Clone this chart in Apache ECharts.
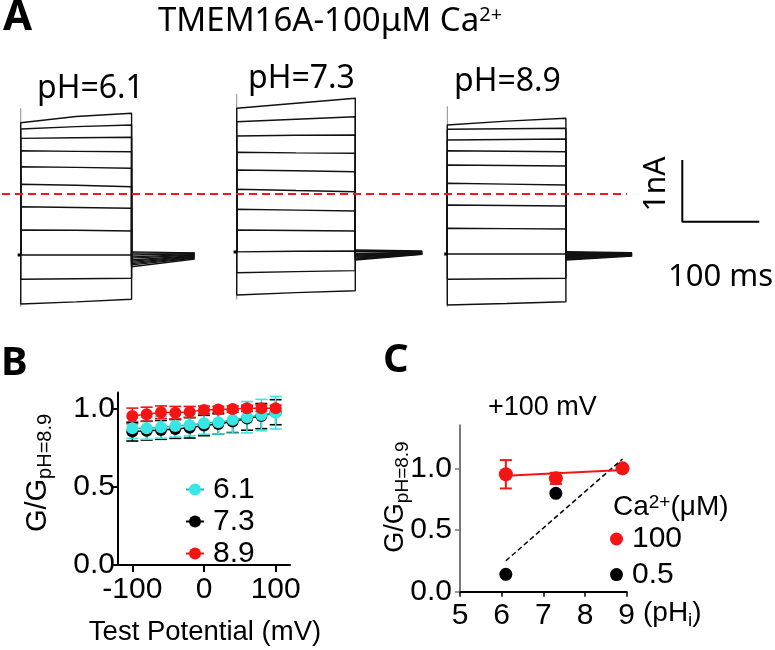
<!DOCTYPE html>
<html><head><meta charset="utf-8">
<script src="https://cdn.jsdelivr.net/npm/echarts@6/dist/echarts.min.js"></script>
<style>html,body{margin:0;padding:0;background:#fff}#c{width:775px;height:650px}</style>
</head><body><div id="c"></div>
<script>
const FA = '"Noto Sans", "DejaVu Sans", sans-serif';
const FB = '"Liberation Sans", Arial, sans-serif';

// ---------- Panel A: current traces (nA vs ms) ----------
const phLabels = ['pH=6.1', 'pH=7.3', 'pH=8.9'];
const pulseMs = [144, 154, 154];
const tailMs = [82, 87, 86];
const holdingNa = [0, 0.05, 0.016];
const transientTopNa = [2.38, 2.71, 2.41];
const transientBottomNa = [-0.84, -0.72, -0.84];

const stepStart61 = [2.144, 2.042, 1.891, 1.690, 1.431, 1.146, 0.783, 0.405, 0, -0.394, -0.794];
const stepMid61   = [2.245, 2.080, 1.900, 1.680, 1.420, 1.130, 0.770, 0.400, 0, -0.385, -0.760];
const stepEnd61   = [2.297, 2.107, 1.908, 1.674, 1.405, 1.107, 0.757, 0.389, 0, -0.378, -0.718];
const tailStart61 = [-0.19, -0.16, -0.14, -0.12, -0.10, -0.08, -0.05, -0.03, 0.0, 0.03, 0.05];
const tailEnd61   = [-0.065, -0.05, -0.04, -0.03, -0.02, -0.01, 0.0, 0.01, 0.02, 0.03, 0.032];

const stepStart73 = [2.378, 2.160, 1.929, 1.665, 1.378, 1.065, 0.741, 0.405, 0.053, -0.287, -0.648];
const stepMid73   = [2.459, 2.200, 1.940, 1.655, 1.365, 1.045, 0.727, 0.397, 0.060, -0.270, -0.610];
const stepEnd73   = [2.540, 2.240, 1.945, 1.648, 1.350, 1.026, 0.713, 0.389, 0.065, -0.254, -0.579];
const tailStart73 = [-0.08, -0.065, -0.05, -0.035, -0.02, -0.005, 0.01, 0.025, 0.04, 0.06, 0.08];
const tailEnd73   = [0.01, 0.015, 0.02, 0.025, 0.03, 0.035, 0.04, 0.045, 0.05, 0.055, 0.065];

const stepStart89 = [2.107, 2.037, 1.864, 1.690, 1.459, 1.162, 0.810, 0.433, 0.016, -0.394, -0.810];
const stepMid89   = [2.170, 2.045, 1.872, 1.682, 1.450, 1.148, 0.802, 0.427, 0.016, -0.386, -0.785];
const stepEnd89   = [2.216, 2.054, 1.880, 1.674, 1.442, 1.135, 0.794, 0.421, 0.016, -0.378, -0.757];
const tailStart89 = [-0.081, -0.07, -0.055, -0.04, -0.025, -0.01, 0.0, 0.015, 0.03, 0.04, 0.053];
const tailEnd89   = [-0.016, -0.01, -0.005, 0.0, 0.005, 0.01, 0.015, 0.02, 0.025, 0.03, 0.037];

const dashLevelNa = 1.0;
const scaleBarNa = 1;
const scaleBarMs = 100;

// ---------- Panel B ----------
const bVoltage = [-100, -80, -60, -40, -20, 0, 20, 40, 60, 80, 100];
const b61 = [0.872, 0.872, 0.879, 0.887, 0.894, 0.904, 0.911, 0.926, 0.943, 0.957, 0.972];
const b61Err = [0.065, 0.07, 0.07, 0.07, 0.07, 0.07, 0.075, 0.085, 0.1, 0.1, 0.104];
const b73 = [0.851, 0.857, 0.862, 0.868, 0.875, 0.89, 0.9, 0.915, 0.935, 0.95, 0.975];
const b73Err = [0.06, 0.06, 0.06, 0.06, 0.065, 0.065, 0.065, 0.07, 0.075, 0.08, 0.08];
const b89 = [0.951, 0.962, 0.975, 0.972, 0.977, 0.989, 0.992, 0.995, 1.0, 1.0, 1.0];
const b89Err = [0.05, 0.045, 0.04, 0.04, 0.035, 0.025, 0.02, 0.02, 0.02, 0.02, 0.02];
const bXTicks = [-100, 0, 100];
const bYTicks = [0, 0.5, 1.0];

// ---------- Panel C ----------
const cPh100 = [6.1, 7.3, 8.9];
const c100 = [0.952, 0.919, 1.0];
const c100Err = [0.115, 0.045, 0];
const cPh05 = [6.1, 7.3];
const c05 = [0.141, 0.798];
const fitPh = [6.1, 8.9];
const fit100 = [0.94, 0.987];
const fit05 = [0.251, 1.076];
const cXTicks = [5, 6, 7, 8, 9];
const cYTicks = [0, 0.5, 1.0];

// ---------- layout ----------
const pxPerMs = 0.77, pxPerNa = 61.7, holdPx = 255;
const aYMin = -1, aYMax = 2.6;
const aTop = holdPx - aYMax * pxPerNa, aHeight = (aYMax - aYMin) * pxPerNa;
const pulseStartPx = [20.7, 236.7, 447.3];
const preMs = 5;

const panels = [
  [stepStart61, stepMid61, stepEnd61, tailStart61, tailEnd61],
  [stepStart73, stepMid73, stepEnd73, tailStart73, tailEnd73],
  [stepStart89, stepMid89, stepEnd89, tailStart89, tailEnd89]
];

const grid = [], xAxis = [], yAxis = [], series = [];
panels.forEach((p, i) => {
  const xMax = pulseMs[i] + tailMs[i];
  grid.push({left: pulseStartPx[i] - preMs * pxPerMs, top: aTop, width: (xMax + preMs) * pxPerMs, height: aHeight,
             containLabel: false, outerBoundsMode: 'none'});
  xAxis.push({gridIndex: i, type: 'value', min: -preMs, max: xMax, show: false});
  yAxis.push({gridIndex: i, type: 'value', min: aYMin, max: aYMax, show: false});
  const [st, md, en, ta, tb] = p;
  series.push({type: 'line', xAxisIndex: i, yAxisIndex: i, silent: true, showSymbol: false, symbol: 'none',
    data: [[0, transientTopNa[i]], [0, transientBottomNa[i]]], lineStyle: {color: '#8a8a8a', width: 1}});
  st.forEach((v, k) => {
    series.push({type: 'line', xAxisIndex: i, yAxisIndex: i, silent: true, showSymbol: false, symbol: 'none',
      data: [[0, holdingNa[i]], [0, v], [pulseMs[i] / 2, md[k]], [pulseMs[i], en[k]],
             [pulseMs[i], ta[k]], [xMax, tb[k]]],
      lineStyle: {color: '#111', width: 1.4}});
  });
  series.push({type: 'line', xAxisIndex: i, yAxisIndex: i, silent: true, showSymbol: false, symbol: 'none',
    data: [[-4, holdingNa[i]], [0, holdingNa[i]]], lineStyle: {color: '#000', width: 3}});
});
grid.push({left: 2, top: aTop, width: 625, height: aHeight, containLabel: false, outerBoundsMode: 'none'});
xAxis.push({gridIndex: 3, type: 'value', min: 0, max: 1, show: false});
yAxis.push({gridIndex: 3, type: 'value', min: aYMin, max: aYMax, show: false});
series.push({type: 'line', xAxisIndex: 3, yAxisIndex: 3, data: [], silent: true,
  markLine: {silent: true, symbol: 'none', label: {show: false},
    lineStyle: {type: [8, 5], color: '#f01818', width: 2}, data: [{yAxis: dashLevelNa}]}});
grid.push({left: 682.3, top: 160, width: scaleBarMs * pxPerMs, height: scaleBarNa * pxPerNa, containLabel: false, outerBoundsMode: 'none'});
xAxis.push({gridIndex: 4, type: 'value', min: 0, max: scaleBarMs, show: false});
yAxis.push({gridIndex: 4, type: 'value', min: 0, max: scaleBarNa, show: false});
series.push({type: 'line', xAxisIndex: 4, yAxisIndex: 4, silent: true, showSymbol: false, symbol: 'none', clip: false,
  data: [[0, scaleBarNa], [0, 0], [scaleBarMs, 0]], lineStyle: {color: '#000', width: 2}});

// ---------- Panel B ----------
grid.push({left: 118, top: 392.6, width: 172, height: 172.4, containLabel: false, outerBoundsMode: 'none'});
const axisLabelB = {fontSize: 30, fontFamily: FB, color: '#000'};
xAxis.push({gridIndex: 5, type: 'value', min: -120, max: 120, splitLine: {show: false},
  axisLine: {onZero: false, lineStyle: {color: '#000', width: 2}},
  axisTick: {length: 7, lineStyle: {color: '#000', width: 2}, customValues: bXTicks},
  axisLabel: Object.assign({margin: 10, customValues: bXTicks, formatter: v => String(v)}, axisLabelB)});
yAxis.push({gridIndex: 5, type: 'value', min: 0, max: 1.1, splitLine: {show: false},
  axisLine: {show: true, onZero: false, lineStyle: {color: '#000', width: 2}},
  axisTick: {show: true, length: 7, lineStyle: {color: '#000', width: 2}, customValues: bYTicks},
  axisLabel: Object.assign({margin: 3, customValues: bYTicks, formatter: v => v.toFixed(1)}, axisLabelB)});

function errSeries(xs, ys, errs, color, axisIdx, capHalf, lw) {
  return {type: 'custom', xAxisIndex: axisIdx, yAxisIndex: axisIdx, silent: true,
    data: xs.map((x, i) => [x, ys[i] - errs[i], ys[i] + errs[i]]),
    encode: {x: 0, y: [1, 2]},
    renderItem: (params, api) => {
      const x = api.value(0);
      const lo = api.coord([x, api.value(1)]);
      const hi = api.coord([x, api.value(2)]);
      const st = {stroke: color, lineWidth: lw};
      return {type: 'group', children: [
        {type: 'line', shape: {x1: lo[0], y1: lo[1], x2: hi[0], y2: hi[1]}, style: st},
        {type: 'line', shape: {x1: lo[0] - capHalf, y1: lo[1], x2: lo[0] + capHalf, y2: lo[1]}, style: st},
        {type: 'line', shape: {x1: hi[0] - capHalf, y1: hi[1], x2: hi[0] + capHalf, y2: hi[1]}, style: st}
      ]};
    }};
}
function bLine(name, ys, color, lineColor) {
  return {type: 'line', name, xAxisIndex: 5, yAxisIndex: 5, silent: true,
    data: bVoltage.map((x, i) => [x, ys[i]]), symbol: 'circle', symbolSize: 12, showSymbol: true,
    itemStyle: {color, opacity: 1}, lineStyle: {color: lineColor, width: 1.5}};
}
const RED = '#f41414', CYAN = '#38e6e6', CYAN_D = '#1fb4b4', BLACK = '#000';
series.push(errSeries(bVoltage, b73, b73Err, BLACK, 5, 6, 1.6));
series.push(bLine('7.3', b73, BLACK, BLACK));
series.push(errSeries(bVoltage, b61, b61Err, CYAN, 5, 6, 1.6));
series.push(bLine('6.1', b61, CYAN, CYAN_D));
series.push(errSeries(bVoltage, b89, b89Err, RED, 5, 6, 1.6));
series.push(bLine('8.9', b89, RED, RED));

// ---------- Panel C ----------
grid.push({left: 460, top: 425.2, width: 166.7, height: 166.5, containLabel: false, outerBoundsMode: 'none'});
xAxis.push({gridIndex: 6, type: 'value', min: 5, max: 9, splitLine: {show: false},
  axisLine: {onZero: false, lineStyle: {color: '#000', width: 2}},
  axisTick: {length: 5, lineStyle: {color: '#000', width: 1.5}, customValues: cXTicks},
  axisLabel: Object.assign({margin: 9, customValues: cXTicks, formatter: v => String(v)}, axisLabelB)});
yAxis.push({gridIndex: 6, type: 'value', min: 0, max: 1.35, splitLine: {show: false},
  axisLine: {show: true, onZero: false, lineStyle: {color: '#7a7a7a', width: 2}},
  axisTick: {show: true, length: 5, lineStyle: {color: '#7a7a7a', width: 1.5}, customValues: cYTicks},
  axisLabel: Object.assign({margin: 8, customValues: cYTicks, formatter: v => v.toFixed(1)}, axisLabelB)});
series.push({type: 'line', xAxisIndex: 6, yAxisIndex: 6, silent: true, symbol: 'none', showSymbol: false,
  data: fitPh.map((x, i) => [x, fit05[i]]), lineStyle: {color: '#000', width: 1.5, type: [5, 3]}});
series.push({type: 'scatter', name: '0.5', xAxisIndex: 6, yAxisIndex: 6, silent: true, symbolSize: 13,
  data: cPh05.map((x, i) => [x, c05[i]]), itemStyle: {color: BLACK, opacity: 1}});
series.push({type: 'line', xAxisIndex: 6, yAxisIndex: 6, silent: true, symbol: 'none', showSymbol: false,
  data: fitPh.map((x, i) => [x, fit100[i]]), lineStyle: {color: RED, width: 2}});
series.push(errSeries(cPh100, c100, c100Err, RED, 6, 6, 2));
series.push({type: 'scatter', name: '100', xAxisIndex: 6, yAxisIndex: 6, silent: true, symbolSize: 14,
  data: cPh100.map((x, i) => [x, c100[i]]), itemStyle: {color: RED, opacity: 1}});

// ---------- texts ----------
function txt(x, y, text, font, opts) {
  const o = Object.assign({align: 'left', rotation: 0, rich: null}, opts || {});
  const st = {text, font, fill: '#000', align: o.align, textAlign: o.align,
              verticalAlign: 'middle', textVerticalAlign: 'middle'};
  if (o.rich) st.rich = o.rich;
  return {type: 'text', x, y, rotation: o.rotation, silent: true, z: 100, style: st};
}
const graphic = [
  txt(3, 18, 'A', 'bold 42px ' + FA),
  txt(158, 22, '{m|TMEM16A-100μM Ca}{s|2+}', '33px ' + FA, {rich: {
    m: {fontSize: 33, fontFamily: FA, fill: '#000'},
    s: {fontSize: 20, fontFamily: FA, fill: '#000', verticalAlign: 'top'}}}),
  txt(37, 88.5, phLabels[0], '32px ' + FA),
  txt(248, 79, phLabels[1], '32px ' + FA),
  txt(454, 82, phLabels[2], '32px ' + FA),
  txt(656.7, 184, '1nA', '30px ' + FA, {align: 'center', rotation: Math.PI / 2}),
  txt(668, 277, '100 ms', '31px ' + FA),
  txt(1, 364, 'B', 'bold 40px ' + FA),
  txt(38, 473, '{m|G/G}{s|pH=8.9}', '28px ' + FB, {align: 'center', rotation: Math.PI / 2, rich: {
    m: {fontSize: 29, fontFamily: FB, fill: '#000'},
    s: {fontSize: 20, fontFamily: FB, fill: '#000', verticalAlign: 'bottom', padding: [14, 0, 0, 0]}}}),
  txt(205, 632, 'Test Potential (mV)', '27.5px ' + FB, {align: 'center'}),
  txt(383, 361, 'C', 'bold 40px ' + FA),
  txt(488, 408, '+100 mV', '27px ' + FB),
  txt(396, 497, '{m|G/G}{s|pH=8.9}', '27px ' + FB, {align: 'center', rotation: Math.PI / 2, rich: {
    m: {fontSize: 27, fontFamily: FB, fill: '#000'},
    s: {fontSize: 19, fontFamily: FB, fill: '#000', verticalAlign: 'bottom', padding: [13, 0, 0, 0]}}}),
  txt(643, 613, '{m|(pH}{s|i}{m|)}', '28px ' + FB, {rich: {
    m: {fontSize: 28, fontFamily: FB, fill: '#000'},
    s: {fontSize: 19, fontFamily: FB, fill: '#000', verticalAlign: 'bottom', padding: [16, 0, 0, 0]}}}),
  txt(613, 507, '{m|Ca}{s|2+}{m|(μM)}', '28px ' + FB, {rich: {
    m: {fontSize: 28, fontFamily: FB, fill: '#000'},
    s: {fontSize: 19, fontFamily: FB, fill: '#000', verticalAlign: 'top'}}})
];

const legend = [
  {data: ['6.1', '7.3', '8.9'], orient: 'vertical', left: 185, top: 474.5, itemWidth: 18, itemHeight: 15,
   itemGap: 2, selectedMode: false, padding: 0,
   textStyle: {fontSize: 30, lineHeight: 24, fontFamily: FB, color: '#000', padding: [0, 0, 0, 4]}},
  {data: ['100', '0.5'], orient: 'vertical', left: 610, top: 524, icon: 'circle', itemWidth: 13, itemHeight: 13,
   itemGap: 5.6, selectedMode: false, padding: 0,
   textStyle: {fontSize: 30, lineHeight: 25, fontFamily: FB, color: '#000', padding: [0, 0, 0, 4]}}
];

const chart = echarts.init(document.getElementById('c'), null, {renderer: 'canvas'});
chart.setOption({animation: false, backgroundColor: '#fff', grid, xAxis, yAxis, series, legend, graphic,
  tooltip: {show: false}});
</script></body></html>
